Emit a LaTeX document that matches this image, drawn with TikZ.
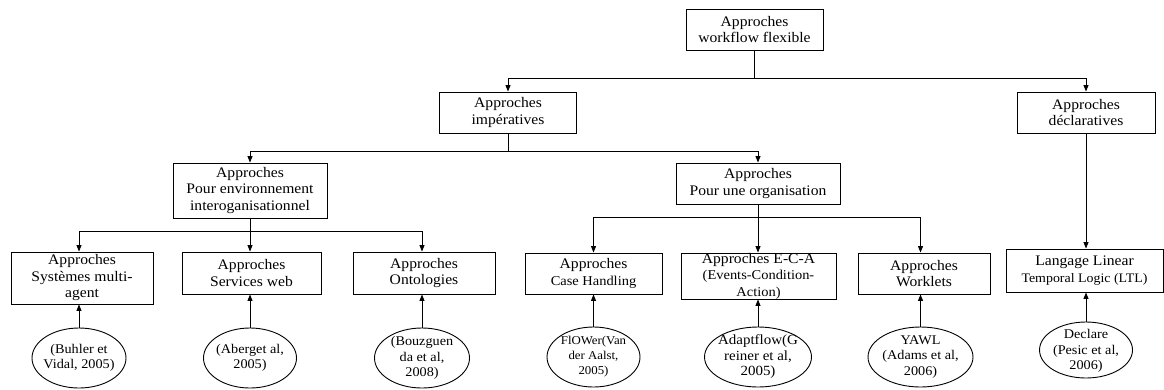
\documentclass[tikz,border=0pt]{standalone}
\usepackage{fontspec}
\setmainfont{Liberation Serif}[FakeStretch=1.07]
\usetikzlibrary{arrows.meta,shapes.geometric}
\tikzset{
  abox/.style={draw, line width=0.9pt, rectangle, inner sep=0pt, align=center,
    font=\fontsize{14.6}{16.5}\selectfont},
  aell/.style={draw, line width=0.9pt, ellipse, inner sep=0pt},
  atxt/.style={align=center, inner sep=0pt, font=\fontsize{13.3}{15.5}\selectfont},
  conn/.style={line width=0.9pt},
  arr/.style={line width=0.9pt, -{Triangle[length=6.5pt,width=5pt]}}
}
\begin{document}
\begin{tikzpicture}[x=1pt,y=-1pt]
\useasboundingbox (0,0) rectangle (1164,389);
% boxes
\node[abox, minimum width=137, minimum height=41] (top) at (754.5,29.5) {Approches\\workflow flexible};
\node[abox, minimum width=137, minimum height=41] (imp) at (508,112.5) {Approches\\impératives};
\node[abox, minimum width=138, minimum height=41] (decl) at (1086,112.5) {Approches\\déclaratives};
\node[abox, minimum width=154, minimum height=55] (env) at (250,190.5) {Approches\\Pour environnement\\interoganisationnel};
\node[abox, minimum width=164, minimum height=41] (org) at (758,183.5) {Approches\\Pour une organisation};
\node[abox, minimum width=142, minimum height=52] (b1) at (82,278) {Approches\\Systèmes multi-\\agent};
\node[abox, minimum width=139, minimum height=42] (b2) at (251.5,273) {Approches\\Services web};
\node[abox, minimum width=142, minimum height=42] (b3) at (424,273) {Approches\\Ontologies};
\node[abox, minimum width=137, minimum height=41] (b4) at (593.5,273.5) {Approches\\{\fontsize{13.5}{15}\selectfont Case Handling}};
\node[abox, minimum width=155, minimum height=46] (b5) at (758.5,276) {Approches E-C-A\\{\fontsize{13.5}{15}\selectfont (Events-Condition-}\\{\fontsize{13.5}{15}\selectfont Action)}};
\node[abox, minimum width=132, minimum height=41] (b6) at (924,273.5) {Approches\\Worklets};
\node[abox, minimum width=157, minimum height=43] (b7) at (1084.5,270.5) {Langage Linear\\{\fontsize{13}{15}\selectfont Temporal Logic (LTL)}};
% ellipses
\node[aell, minimum width=94, minimum height=60] (e1) at (79,358) {};
\node[aell, minimum width=93, minimum height=60] (e2) at (250,358) {};
\node[aell, minimum width=95, minimum height=60] (e3) at (422,358) {};
\node[aell, minimum width=93, minimum height=60] (e4) at (593.5,357) {};
\node[aell, minimum width=107, minimum height=60] (e5) at (758,357) {};
\node[aell, minimum width=105, minimum height=60] (e6) at (920.5,357) {};
\node[aell, minimum width=93, minimum height=56] (e7) at (1086,350) {};
\node[atxt] (t1) at (e1) {(Buhler et\\Vidal, 2005)};
\node[atxt] (t2) at (e2) {(Aberget al,\\2005)};
\node[atxt] (t3) at (e3) {(Bouzguen\\da et al,\\2008)};
\node[atxt, font=\fontsize{12}{15}\selectfont] (t4) at (e4) {FlOWer(Van\\der Aalst,\\2005)};
\node[atxt, font=\fontsize{14}{15.5}\selectfont] (t5) at (e5) {Adaptflow(G\\reiner et al,\\2005)};
\node[atxt] (t6) at (e6) {YAWL\\(Adams et al,\\2006)};
\node[atxt] (t7) at ([yshift=-1]e7) {Declare\\(Pesic et al,\\2006)};
% junctions
\coordinate (j1) at (754.5,78);
\coordinate (j2) at (508,151);
\coordinate (j3) at (250,231);
\coordinate (j4) at (758,217.5);
% tree connectors
\draw[conn] (top.south) -- (j1);
\draw[arr] (j1) -| (imp.north);
\draw[arr] (j1) -| (decl.north);
\draw[conn] (imp.south) -- (j2);
\draw[arr] (j2) -| (env.north);
\draw[arr] (j2) -| (org.north);
\draw[conn] (env.south) -- (j3);
\draw[arr] (j3) -| (e1 |- b1.north);
\draw[arr] (j3) -- (e2 |- b2.north);
\draw[arr] (j3) -| (e3 |- b3.north);
\draw[conn] (org.south) -- (j4);
\draw[arr] (j4) -| (e4 |- b4.north);
\draw[arr] (j4) -- (e5 |- b5.north);
\draw[arr] (j4) -| (e6 |- b6.north);
\draw[arr] (decl.south) -- (decl |- b7.north);
% upward arrows
\draw[arr] (e1.north) -- (e1 |- b1.south);
\draw[arr] (e2.north) -- (e2 |- b2.south);
\draw[arr] (e3.north) -- (e3 |- b3.south);
\draw[arr] (e4.north) -- (e4 |- b4.south);
\draw[arr] (e5.north) -- (e5 |- b5.south);
\draw[arr] (e6.north) -- (e6 |- b6.south);
\draw[arr] (e7.north) -- (e7 |- b7.south);
\end{tikzpicture}
\end{document}
